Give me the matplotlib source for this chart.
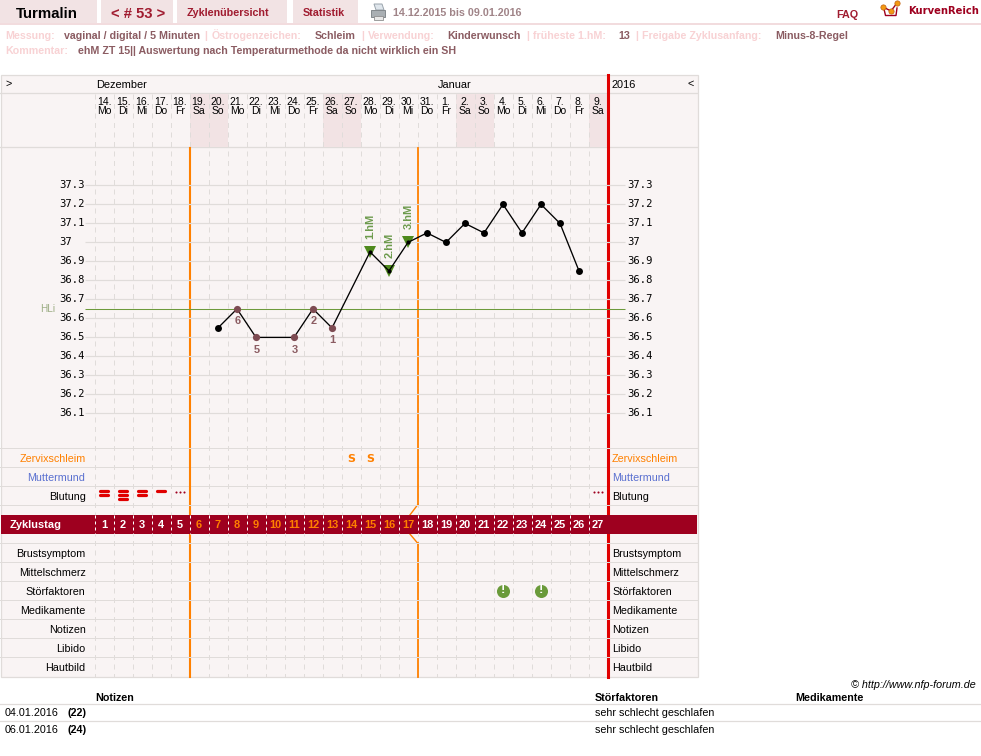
import matplotlib
matplotlib.use("Agg")
import matplotlib.pyplot as plt
from matplotlib.patches import Rectangle, Polygon
from matplotlib.transforms import blended_transform_factory

plt.rcParams['font.family'] = ['Liberation Sans', 'DejaVu Sans']

# cycle data
month_days = [14, 15, 16, 17, 18, 19, 20, 21, 22, 23, 24, 25, 26, 27, 28, 29, 30, 31,
              1, 2, 3, 4, 5, 6, 7, 8, 9]
weekdays = ['Mo', 'Di', 'Mi', 'Do', 'Fr', 'Sa', 'So'] * 3 + ['Mo', 'Di', 'Mi', 'Do', 'Fr', 'Sa']
weekend_days = [6, 7, 13, 14, 20, 21, 27]
temp_days = [7, 8, 9, 11, 12, 13, 15, 16, 17, 18, 19, 20, 21, 22, 23, 24, 25, 26]
temps = [36.55, 36.65, 36.5, 36.5, 36.65, 36.55, 36.95, 36.85, 37.0, 37.05, 37.0, 37.1,
         37.05, 37.2, 37.05, 37.2, 37.1, 36.85]
low_days = [8, 9, 11, 12, 13]
low_ranks = ['6', '5', '3', '2', '1']
high_days = [15, 16, 17]
high_labels = ['1.hM', '2.hM', '3.hM']
temp_ticks = [37.3, 37.2, 37.1, 37.0, 36.9, 36.8, 36.7, 36.6, 36.5, 36.4, 36.3, 36.2, 36.1]
temp_tick_labels = ['37.3', '37.2', '37.1', '37', '36.9', '36.8', '36.7', '36.6', '36.5',
                    '36.4', '36.3', '36.2', '36.1']
cover_line = 36.65
bleeding_days = [1, 2, 3, 4]
bleeding_levels = [2, 3, 2, 1]
spotting_days = [5, 27]
mucus_days = [14, 15]
disturbance_days = [22, 24]
upper_rows = ['Zervixschleim', 'Muttermund', 'Blutung']
lower_rows = ['Brustsymptom', 'Mittelschmerz', 'Störfaktoren', 'Medikamente', 'Notizen',
              'Libido', 'Hautbild']

BG = '#f9f4f4'
TAB = '#f2e3e4'
GRID = '#e0dcda'
DARK = '#9e001f'
TABTEXT = '#a01c30'
VALUE = '#8b5c62'
PALE = '#f8d2d4'
ORANGE = '#ff8000'
RED = '#e00000'
GREEN = '#4f8a1e'

W, H = 981, 756
fig = plt.figure(figsize=(W / 100, H / 100), dpi=100, facecolor='white')

page = fig.add_axes([0, 0, 1, 1])
page.set_xlim(0, W)
page.set_ylim(H, 0)
page.axis('off')


def px(size):
    return size * 0.72


def label(x, y, s, size=10.7, color='black', weight='normal', ha='left', **kw):
    # y is the middle of the capitals, so lines with and without descenders stay level
    page.text(x, y + 0.36 * size, s, fontsize=px(size), color=color, fontweight=weight, ha=ha,
              va='baseline', **kw)


# top tabs
for x0, x1 in [(0, 97), (101, 173), (177, 287), (293, 358)]:
    page.add_patch(Rectangle((x0, 0), x1 - x0, 23, fc=TAB, ec='none'))
page.add_patch(Rectangle((0, 23), W, 2, fc='#f2dcde', ec='none'))
label(16, 13, 'Turmalin', size=15, weight='bold')
label(138, 13, '< # 53 >', size=14.8, color=TABTEXT, weight='bold', ha='center')
label(187, 12, 'Zyklenübersicht', size=10.7, color=TABTEXT, weight='bold')
label(303, 12, 'Statistik', size=10.7, color=TABTEXT, weight='bold')
label(393, 12, '14.12.2015 bis 09.01.2016', size=10.7, color='#a08488', weight='bold')
label(836, 14.5, 'FAQ', size=10.7, color=TABTEXT, weight='bold')
label(908, 10, 'KurvenReich', size=10, color=DARK, weight='bold', family='DejaVu Sans')

# printer icon
page.add_patch(Polygon([(374, 4), (382, 4), (384, 10), (376, 10)], fc='#dfe6ec', ec='#9aa4ac', lw=0.7))
page.add_patch(Polygon([(371, 10), (385, 10), (385, 17), (371, 17)], fc='#a9afb3', ec='#83898d', lw=0.7))
page.add_patch(Rectangle((374, 16), 9, 3.5, fc='#e8e8e8', ec='#8f8f8f', lw=0.6))

# logo
page.plot([884, 885.5, 896, 897], [9, 15.5, 15.5, 8], color=DARK, lw=1)
page.plot([883, 891, 897], [7, 11, 3], color=DARK, lw=1)
page.plot([883, 891, 897], [7, 11, 3], 'o', ms=3.8, mfc='#f39a12', mec='#c06010', mew=0.5)

# settings lines
settings = [(5, 'Messung:', PALE), (64, 'vaginal / digital / 5 Minuten', VALUE), (204, '|', PALE),
            (212, 'Östrogenzeichen:', PALE), (315, 'Schleim', VALUE), (361, '|', PALE),
            (368, 'Verwendung:', PALE), (447, 'Kinderwunsch', VALUE), (526, '|', PALE),
            (533, 'früheste 1.hM:', PALE), (618, '13', VALUE), (635, '|', PALE),
            (642, 'Freigabe Zyklusanfang:', PALE), (775, 'Minus-8-Regel', VALUE),
            ]
for x, s, c in settings:
    label(x, 35.5, s, size=10.6, color=c, weight='bold')
label(5, 50.5, 'Kommentar:', size=10.6, color=PALE, weight='bold')
label(78, 50.5, 'ehM ZT 15|| Auswertung nach Temperaturmethode da nicht wirklich ein SH',
      size=10.6, color=VALUE, weight='bold')

# chart frame
page.add_patch(Rectangle((0.5, 75), 697, 601.5, fc=BG, ec=GRID, lw=0.9, zorder=0))
page.plot([0, 697], [93, 93], color=GRID, lw=0.9, zorder=1)
page.plot([0, 697], [147, 147], color=GRID, lw=0.9, zorder=1)

# temperature axes share the day columns with everything below
left, right, top, bottom = 94.5, 607.5, 147.5, 448.3
ax = fig.add_axes([left / W, 1 - bottom / H, (right - left) / W, (bottom - top) / H])
ax.patch.set_alpha(0)
ax.axis('off')
ax.set_xlim(0.5, 27.5)
ax.set_ylim(37.3 - (bottom - 185.4) / 190, 37.3 + (185.4 - top) / 190)
day_trans = blended_transform_factory(ax.transData, page.transData)
first, last = 1, len(month_days)

# weekend shading and the day header
for d in weekend_days:
    page.add_patch(Rectangle((d - 0.5, 93.5), 1, 53.5, fc=TAB, ec='none', transform=day_trans, zorder=1))
for i, (n, wd) in enumerate(zip(month_days, weekdays)):
    page.text(i + 1, 102, f'{n}.', fontsize=px(10.4), ha='center', va='center', transform=day_trans)
    page.text(i + 1, 111, wd, fontsize=px(10.4), ha='center', va='center', transform=day_trans)
label(96, 84.5, 'Dezember', size=11)
label(438, 84.5, 'Januar', size=11)
label(612, 84.5, '2016', size=11)
label(5, 83, '>')
label(687, 83, '<')

# day columns
for d in range(first - 1, last):
    page.plot([d + 0.5] * 2, [93.5, 676.5], color=GRID, lw=0.72, ls=(0, (5, 4.5)),
              transform=day_trans, zorder=2)

# temperature grid, runs past the day columns on both sides
ax.hlines(temp_ticks, 0, 28.42, color=GRID, lw=0.85, clip_on=False, zorder=1)
ax.hlines(cover_line, 0, 28.42, color='#6d9a3c', lw=0.75, clip_on=False, zorder=2)
for t, s in zip(temp_ticks, temp_tick_labels):
    ax.annotate(s, (0, t), xytext=(-26, 0), textcoords='offset pixels', family='DejaVu Sans Mono',
                fontsize=7.6, va='center', ha='left', annotation_clip=False)
    ax.annotate(s, (28.42, t), xytext=(2, 0), textcoords='offset pixels', family='DejaVu Sans Mono',
                fontsize=7.6, va='center', ha='left', annotation_clip=False)
ax.annotate('HLi', (0, cover_line), xytext=(-45, 0), textcoords='offset pixels', fontsize=px(10),
            color='#9cad84', va='center', ha='left', annotation_clip=False)

# evaluation lines
page.plot([5.5, 5.5], [147.5, 676.5], color=ORANGE, lw=1.5, transform=day_trans, zorder=3)
page.plot([17.5, 17.5], [147.5, 505], color=ORANGE, lw=1.3, transform=day_trans, zorder=3)
page.plot([17.5, 17.5], [543, 676.5], color=ORANGE, lw=1.3, transform=day_trans, zorder=3)
page.plot([17.5, 17.1], [505, 515], color=ORANGE, lw=1.0, transform=day_trans, zorder=3)
page.plot([17.1, 17.5], [534, 543], color=ORANGE, lw=1.0, transform=day_trans, zorder=3)
page.plot([27.5, 27.5], [75, 676.5], color=RED, lw=2.2, transform=day_trans, zorder=3)

# the two upper row separators run behind the vertical lines, the others cross them
for y in [467, 486]:
    page.plot([0, 697], [y, y], color=GRID, lw=0.72, zorder=2.5)
for y in [448, 505, 543, 562, 581, 600, 619, 638, 657]:
    page.plot([0, 697], [y, y], color=GRID, lw=0.72, zorder=4)

# cycle day band
page.add_patch(Rectangle((1, 515), 696, 19, fc=DARK, ec='none', zorder=5))
label(10, 524.5, 'Zyklustag', size=11, color='white', weight='bold', zorder=6)
for d in range(first, last + 1):
    color = ORANGE if 6 <= d <= 17 else 'white'
    page.text(d, 524.5, str(d), color=color, fontsize=px(11), fontweight='bold', ha='center',
              va='center', transform=day_trans, zorder=6)
    page.plot([d - 0.5] * 2, [515, 534], color='white', lw=0.72, ls=(0, (3, 3)),
              transform=day_trans, zorder=6)

# row captions
for y, s, c in zip([458, 477, 496], upper_rows, [ORANGE, '#5a70d0', 'black']):
    label(85.5, y, s, color=c, ha='right')
    label(612, y, s, color=c)
for i, s in enumerate(lower_rows):
    label(85.5, 553 + 19 * i, s, ha='right')
    label(612, 553 + 19 * i, s)

# bleeding marks
for d, level in zip(bleeding_days, bleeding_levels):
    for k in range(level):
        page.plot([d - 0.22, d + 0.22], [491.3 + 4 * k] * 2, color=RED, lw=2.3, solid_capstyle='round',
                  transform=day_trans, zorder=6)
for d in spotting_days:
    page.plot([d - 0.2, d, d + 0.2], [491.5] * 3, ls='none', marker='o', ms=1.5, mew=0, color=DARK,
              transform=day_trans, zorder=6)

# cervical mucus
for d in mucus_days:
    page.text(d, 459.5, 'S', color=ORANGE, fontsize=px(11), fontweight='bold', ha='center', va='center',
              family='DejaVu Sans', transform=day_trans, zorder=6)

# disturbance flags
page.plot(disturbance_days, [590.5] * len(disturbance_days), ls='none', marker='o', ms=9.4,
          color='#6a9a3a', mew=0, transform=day_trans, zorder=6)
for d in disturbance_days:
    page.text(d, 590.3, '!', color='white', fontsize=px(13), fontweight='bold', ha='center', va='center',
              transform=day_trans, zorder=7)

# temperature curve
temp_by_day = dict(zip(temp_days, temps))
ax.plot(temp_days, temps, color='black', lw=0.95, clip_on=False, zorder=7)
plain_days = [d for d in temp_days if d not in low_days and d not in high_days]
ax.plot(plain_days, [temp_by_day[d] for d in plain_days], ls='none', marker='o', ms=5, color='black',
        mew=0, clip_on=False, zorder=7)

low_temps = [temp_by_day[d] for d in low_days]
ax.plot(low_days, low_temps, ls='none', marker='o', ms=5.2, color='#7d4b52', mew=0, zorder=8)
for d, t, s in zip(low_days, low_temps, low_ranks):
    ax.annotate(s, (d, t), xytext=(0.5, -12.5), textcoords='offset pixels', color=VALUE, fontsize=px(11),
                fontweight='bold', ha='center', va='center')

high_temps = [temp_by_day[d] for d in high_days]
ax.plot(high_days, high_temps, ls='none', marker='v', ms=8, color=GREEN, mew=0, zorder=6.5)
ax.plot(high_days, high_temps, ls='none', marker='o', ms=3, color='black', mew=0, zorder=8)
for d, t, s in zip(high_days, high_temps, high_labels):
    ax.annotate(s, (d, t), xytext=(0.5, 13), textcoords='offset pixels', color='#6c9a4c', fontsize=px(11),
                fontweight='bold', rotation=90, ha='center', va='bottom')

# notes table
label(976, 684, '© http://www.nfp-forum.de', ha='right', style='italic')
label(95, 697, 'Notizen', weight='bold')
label(595, 697, 'Störfaktoren', weight='bold')
label(795, 697, 'Medikamente', weight='bold')
for y in [704, 721]:
    page.plot([0, W], [y, y], color=GRID, lw=0.9)
for y, date, day, note in [(712.5, '04.01.2016', '(22)', 'sehr schlecht geschlafen'),
                           (729.5, '06.01.2016', '(24)', 'sehr schlecht geschlafen')]:
    label(5, y, date)
    label(68, y, day, weight='bold')
    label(595, y, note)

fig.savefig('out.png', dpi=100, facecolor='white')
